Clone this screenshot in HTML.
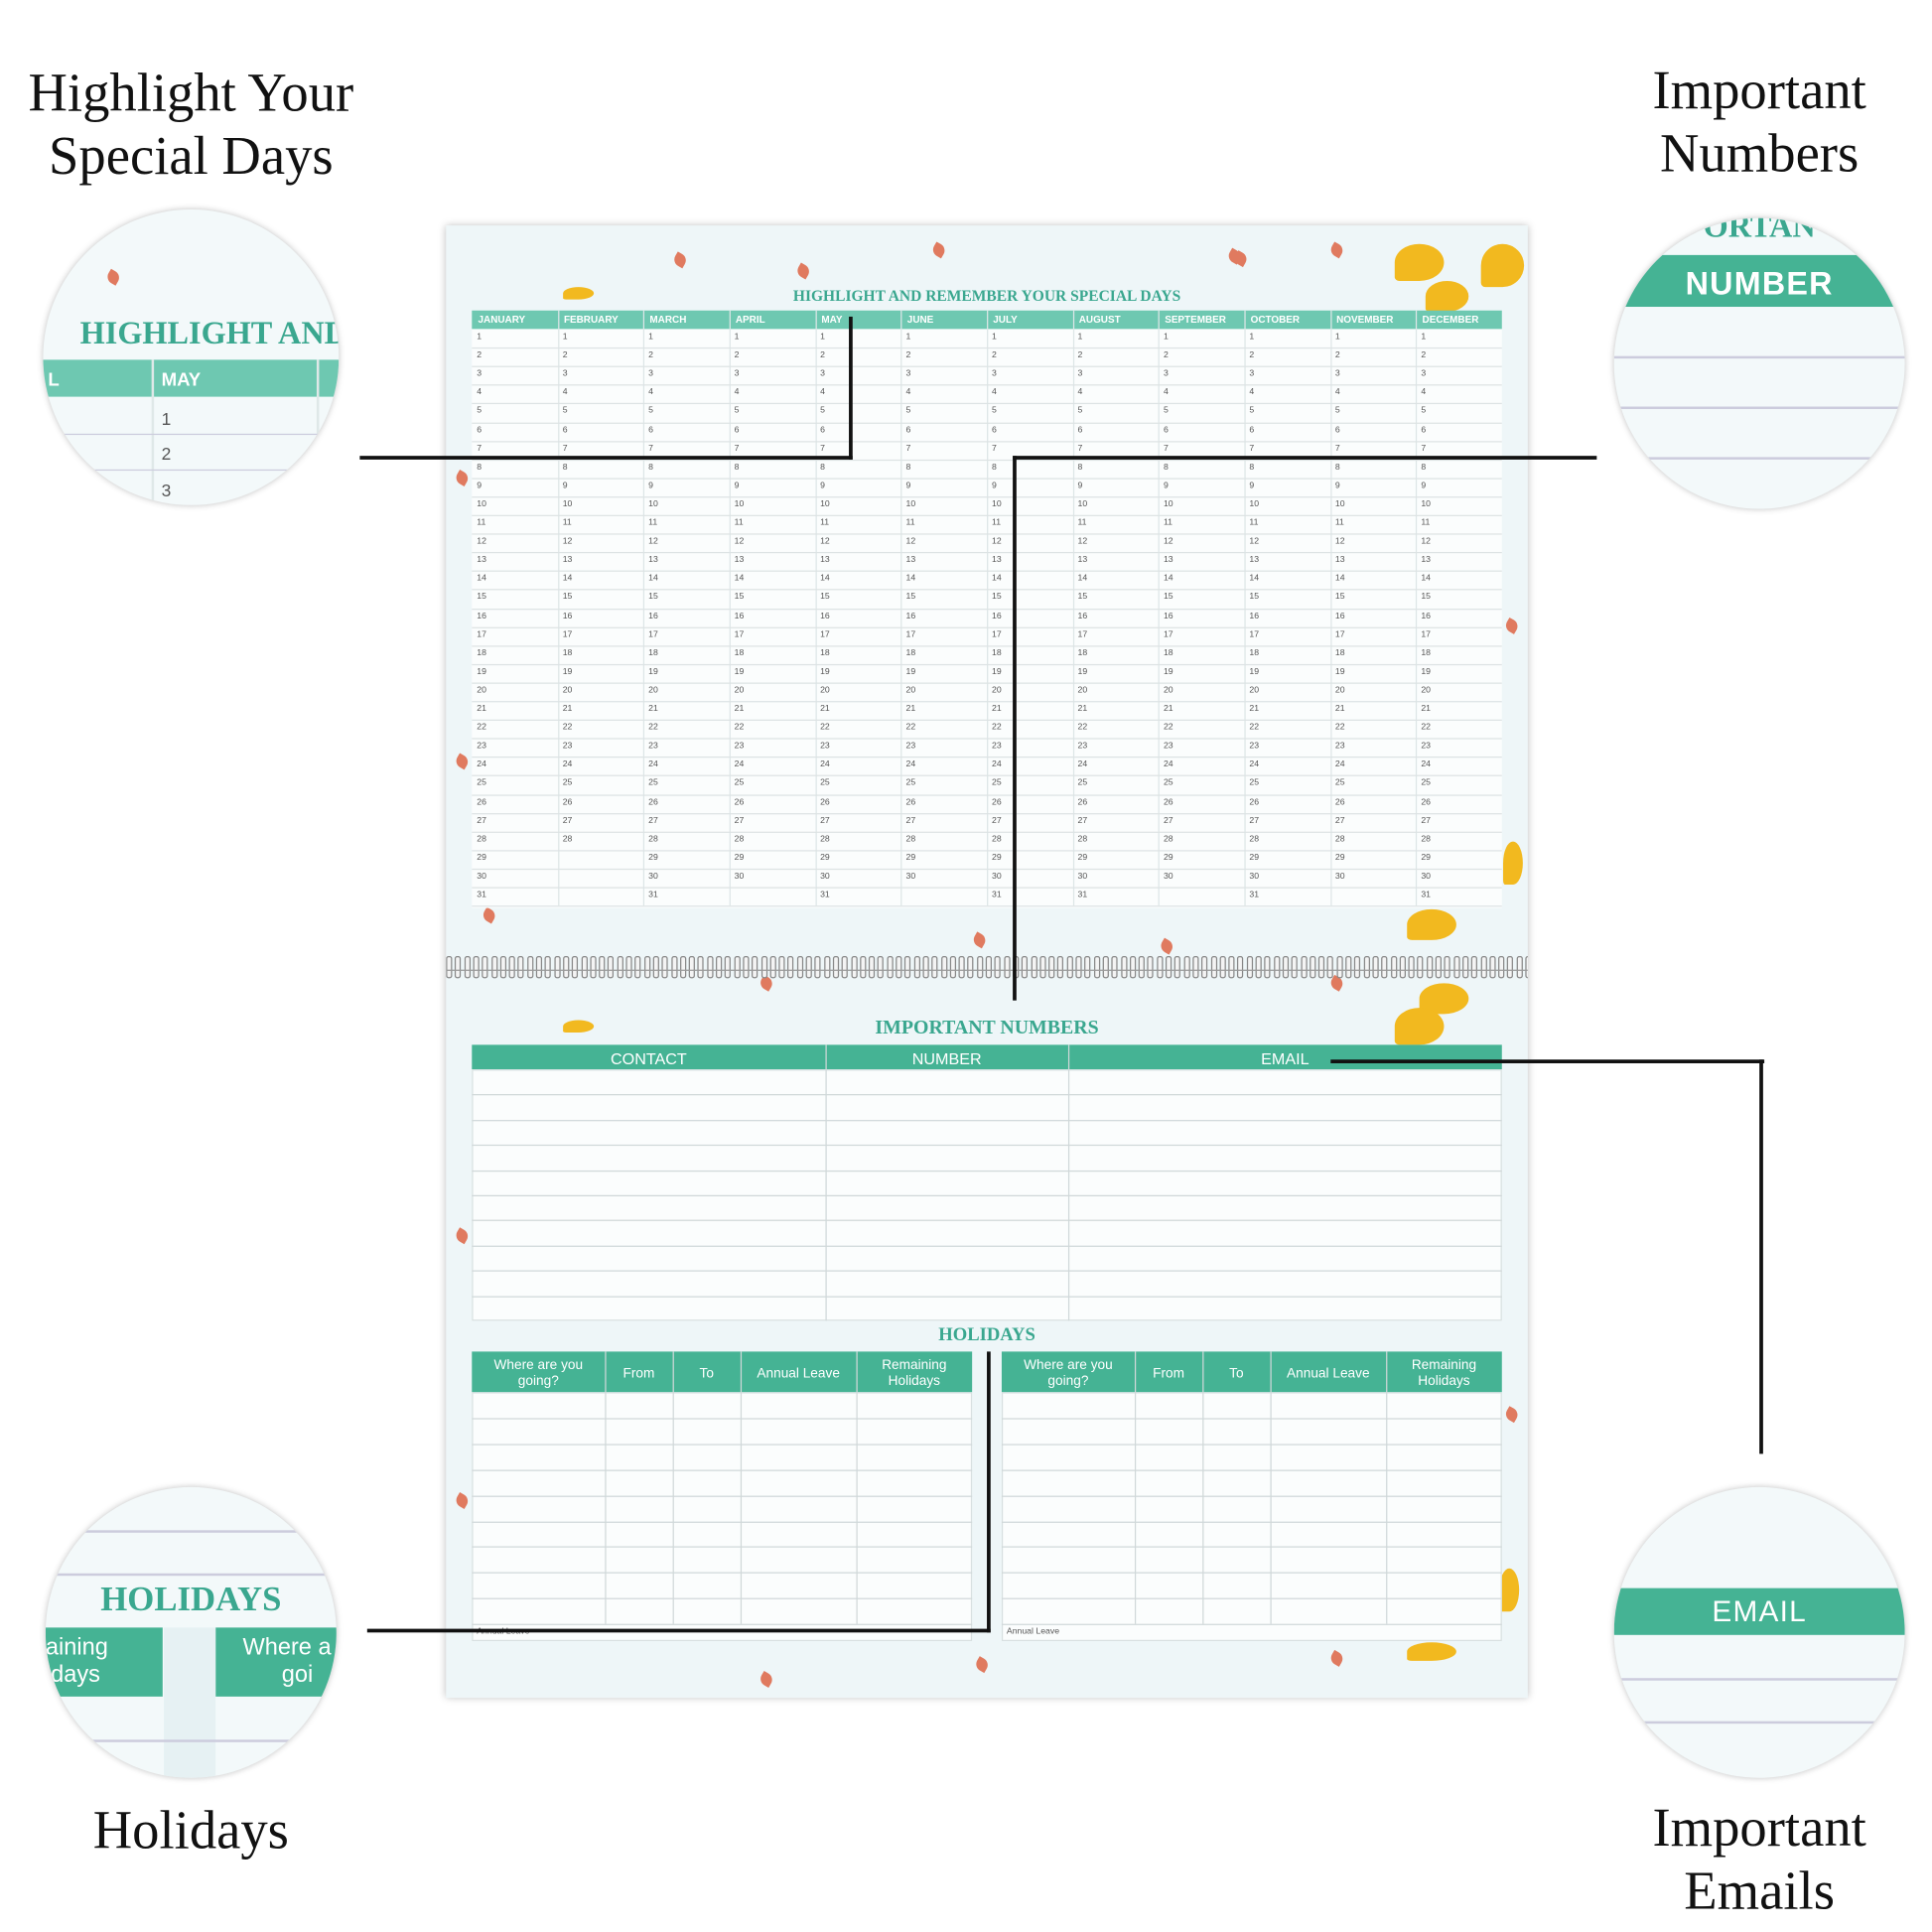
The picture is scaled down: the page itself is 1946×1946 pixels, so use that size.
<!DOCTYPE html>
<html><head><meta charset="utf-8">
<style>
html,body{margin:0;padding:0;background:#fff;}
body{width:1946px;height:1946px;overflow:hidden;position:relative;}
#w{position:absolute;left:0;top:0;width:1560px;height:1560px;transform:scale(1.241);transform-origin:0 0;font-family:"Liberation Sans",sans-serif;}
.a{position:absolute;}
.lbl{position:absolute;font-family:"Liberation Serif",serif;font-size:44px;color:#111;text-align:center;line-height:51px;}
.page{position:absolute;left:362px;top:183px;width:878px;height:1195px;background:#eef6f8;box-shadow:0 0 6px rgba(0,0,0,.25);overflow:hidden;}
.ttl{position:absolute;left:0;width:878px;text-align:center;color:#3aa78f;font-family:"Liberation Serif",serif;font-weight:bold;}
.bl{position:absolute;background:#111;}
.circ{position:absolute;border-radius:50%;background:#f3f9fa;overflow:hidden;box-shadow:0 0 5px rgba(0,0,0,.25);}
.leaf{position:absolute;width:10px;height:10px;background:#e07a5f;border-radius:0 60% 0 60%;transform:rotate(30deg);}
.yel{position:absolute;background:#f2b91f;border-radius:50% 50% 50% 10%;}
</style></head><body><div id="w">

<div class="lbl" style="left:0;top:50px;width:310px;">Highlight Your<br>Special Days</div>
<div class="lbl" style="left:1290px;top:48px;width:276px;">Important<br>Numbers</div>
<div class="lbl" style="left:0;top:1460px;width:310px;">Holidays</div>
<div class="lbl" style="left:1290px;top:1458px;width:276px;">Important<br>Emails</div>

<div class="page" id="pg"></div>

<div class="circ" style="left:35px;top:170px;width:240px;height:240px;">
  <div class="a" style="left:30px;top:86px;color:#3aa78f;font-family:'Liberation Serif',serif;font-weight:bold;font-size:26px;white-space:nowrap;">HIGHLIGHT AND</div>
  <div class="a" style="left:0;top:122px;width:240px;height:30px;background:#6ec8b1;"></div>
  <div class="a" style="left:96px;top:130px;color:#fff;font-weight:bold;font-size:15px;">MAY</div>
  <div class="a" style="left:4px;top:130px;color:#fff;font-weight:bold;font-size:15px;">L</div>
  <div class="a" style="left:88px;top:122px;width:2px;height:120px;background:#dfe8e8;"></div>
  <div class="a" style="left:222px;top:122px;width:2px;height:120px;background:#dfe8e8;"></div>
  <div class="a" style="left:96px;top:162px;font-size:14px;color:#555;">1</div>
  <div class="a" style="left:0;top:182px;width:240px;height:1px;background:#ccd;"></div>
  <div class="a" style="left:96px;top:190px;font-size:14px;color:#555;">2</div>
  <div class="a" style="left:0;top:211px;width:240px;height:1px;background:#ccd;"></div>
  <div class="a" style="left:96px;top:220px;font-size:14px;color:#555;">3</div>
  <div class="leaf" style="left:52px;top:50px;"></div>
</div>
<div class="circ" style="left:1310px;top:177px;width:236px;height:236px;">
  <div class="a" style="left:0;top:30px;width:236px;height:42px;background:#45b394;"></div>
  <div class="a" style="left:0;top:38px;width:236px;text-align:center;color:#fff;font-size:26px;font-weight:bold;letter-spacing:1px;">NUMBER</div>
  <div class="a" style="left:0;top:112px;width:236px;height:2px;background:#ccd;"></div>
  <div class="a" style="left:0;top:153px;width:236px;height:2px;background:#ccd;"></div>
  <div class="a" style="left:0;top:194px;width:236px;height:2px;background:#ccd;"></div>
  <div class="a" style="left:40px;top:0;width:156px;height:22px;color:#3aa78f;font-family:'Liberation Serif',serif;font-weight:bold;font-size:26px;line-height:14px;text-align:center;overflow:hidden;">ORTAN</div>
</div>
<div class="circ" style="left:37px;top:1207px;width:236px;height:236px;">
  <div class="a" style="left:0;top:35px;width:236px;height:2px;background:#ccd;"></div>
  <div class="a" style="left:0;top:70px;width:236px;height:2px;background:#ccd;"></div>
  <div class="a" style="left:0;top:76px;width:236px;text-align:center;color:#3aa78f;font-family:'Liberation Serif',serif;font-weight:bold;font-size:28px;">HOLIDAYS</div>
  <div class="a" style="left:0;top:114px;width:95px;height:56px;background:#45b394;"></div>
  <div class="a" style="left:138px;top:114px;width:100px;height:56px;background:#45b394;"></div>
  <div class="a" style="left:96px;top:114px;width:42px;height:122px;background:#e6f1f3;"></div>
  <div class="a" style="left:0;top:120px;color:#fff;font-size:19px;line-height:22px;">aining<br>idays</div>
  <div class="a" style="left:160px;top:120px;color:#fff;font-size:19px;line-height:22px;">Where a<br>&nbsp;&nbsp;&nbsp;&nbsp;&nbsp;&nbsp;goi</div>
  <div class="a" style="left:0;top:205px;width:236px;height:2px;background:#ccd;"></div>
</div>
<div class="circ" style="left:1310px;top:1207px;width:236px;height:236px;">
  <div class="a" style="left:0;top:82px;width:236px;height:38px;background:#45b394;"></div>
  <div class="a" style="left:0;top:88px;width:236px;text-align:center;color:#fff;font-size:24px;letter-spacing:1px;">EMAIL</div>
  <div class="a" style="left:0;top:155px;width:236px;height:2px;background:#ccd;"></div>
  <div class="a" style="left:0;top:190px;width:236px;height:2px;background:#ccd;"></div>
</div>

<div class="bl" style="left:292px;top:370px;width:400px;height:3px;"></div>
<div class="bl" style="left:689px;top:257px;width:3px;height:116px;"></div>
<div class="bl" style="left:822px;top:370px;width:474px;height:3px;"></div>
<div class="bl" style="left:822px;top:370px;width:3px;height:442px;"></div>
<div class="bl" style="left:1080px;top:860px;width:352px;height:3px;"></div>
<div class="bl" style="left:1428px;top:860px;width:3px;height:320px;"></div>
<div class="bl" style="left:298px;top:1322px;width:506px;height:3px;"></div>
<div class="bl" style="left:801px;top:1097px;width:3px;height:228px;"></div>
</div>
<script>
var pg=document.getElementById('pg'),h='';
function R(x,y,w,hh,c,extra){h+='<div class="a" style="left:'+x+'px;top:'+y+'px;width:'+w+'px;height:'+hh+'px;background:'+c+';'+(extra||'')+'"></div>';}
function T(x,y,s,st){h+='<div class="a" style="left:'+x+'px;top:'+y+'px;'+st+'">'+s+'</div>';}
var lv=[[185,23],[285,32],[395,15],[635,20],[718,15],[640,22],[8,200],[8,430],[860,320],[860,960],[8,1030],[860,1100],[255,1175],[430,1163],[718,1158],[940,1155],[30,555],[580,580],[8,815],[255,610],[428,575],[718,610],[940,605]];
lv.forEach(function(p){h+='<div class="leaf" style="left:'+p[0]+'px;top:'+p[1]+'px;"></div>';});
[[770,15,40,30],[795,45,35,25],[840,15,35,35],[780,555,40,25],[790,615,40,25],[770,635,40,30],[858,500,16,35],[855,1090,16,35],[780,1150,40,15]].forEach(function(p){h+='<div class="yel" style="left:'+p[0]+'px;top:'+p[1]+'px;width:'+p[2]+'px;height:'+p[3]+'px;"></div>';});
[[95,50,25,10],[95,645,25,10]].forEach(function(p){h+='<div class="yel" style="left:'+p[0]+'px;top:'+p[1]+'px;width:'+p[2]+'px;height:'+p[3]+'px;"></div>';});
h+='<div class="ttl" style="top:50px;font-size:12.5px;">HIGHLIGHT AND REMEMBER YOUR SPECIAL DAYS</div>';
var months=['JANUARY','FEBRUARY','MARCH','APRIL','MAY','JUNE','JULY','AUGUST','SEPTEMBER','OCTOBER','NOVEMBER','DECEMBER'];
var tx=21,ty=69,cw=69.67,rh=15.1;
R(tx,ty+15,836,rh*31+2,'#fbfdfd');
R(tx,ty,836,15,'#6ec8b1');
months.forEach(function(m,i){T(tx+i*cw+5,ty+3,m,'color:#fff;font-size:8px;font-weight:bold;');
 if(i>0)R(tx+i*cw,ty,1,15+rh*31,'#dde6e7');});
var dim=[31,28,31,30,31,30,31,31,30,31,30,31];
for(var r=0;r<31;r++){var y=ty+15+r*rh;R(tx,y+rh,836,1,'#dde3e4');
 for(var c=0;c<12;c++){if(r<dim[c])T(tx+c*cw+4,y+3,(r+1),'font-size:7px;color:#555;');}}
var s='';for(var x=0;x<878;x+=7.3)s+='<div class="a" style="left:'+x+'px;top:0;width:3px;height:16px;border:1px solid #888;border-radius:2px;background:#f4f4f4;"></div>';
h+='<div class="a" style="left:0;top:593px;width:878px;height:18px;">'+s+'</div>';
R(0,604,878,1,'#999');
h+='<div class="ttl" style="top:643px;font-size:16px;">IMPORTANT NUMBERS</div>';
R(21,665,836,20,'#45b394');R(21,685,836,204,'#fbfdfd','border:1px solid #d8e0e1;box-sizing:border-box;');
[[21,287,'CONTACT'],[308,197,'NUMBER'],[505,352,'EMAIL']].forEach(function(c){T(c[0],669,c[2],'width:'+c[1]+'px;text-align:center;color:#fff;font-size:13px;');});
R(308,665,1,224,'#d0d8d9');R(505,665,1,224,'#d0d8d9');
for(var i=1;i<10;i++)R(21,685+i*20.4,836,1,'#d0d8d9');
h+='<div class="ttl" style="top:893px;font-size:15px;">HOLIDAYS</div>';
[21,451].forEach(function(lx){
 R(lx,914,406,33,'#45b394');R(lx,947,406,202,'#fbfdfd','border:1px solid #d8e0e1;box-sizing:border-box;');
 var cx=[0,108,163,218,312,406],nm=['Where are you<br>going?','From','To','Annual Leave','Remaining<br>Holidays'];
 for(var i=0;i<5;i++){T(lx+cx[i],nm[i].indexOf('<br>')>0?919:926,nm[i],'width:'+(cx[i+1]-cx[i])+'px;text-align:center;color:#fff;font-size:11px;line-height:13px;');
  if(i>0)R(lx+cx[i],914,1,221,'#d0d8d9');}
 for(var i=1;i<10;i++)R(lx,947+i*20.9,406,1,'#d0d8d9');
 T(lx+4,1138,'Annual Leave','font-size:7px;color:#555;');
});
pg.innerHTML=h;
</script>
</body></html>
